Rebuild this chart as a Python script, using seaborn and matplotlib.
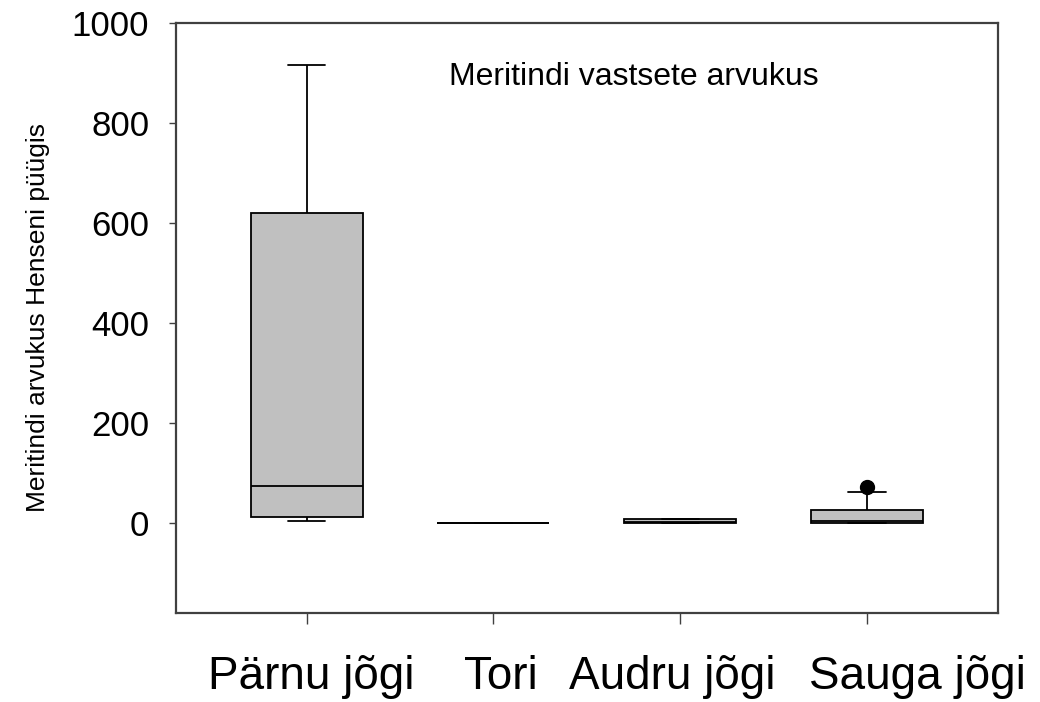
import numpy as np
import pandas as pd
import matplotlib
matplotlib.use("Agg")
import matplotlib.pyplot as plt
import matplotlib.transforms as mtransforms
import seaborn as sns

rivers = ["Pärnu jõgi", "Tori", "Audru jõgi", "Sauga jõgi"]
parnu = [4, 8, 12, 40, 74, 300, 619, 800, 916]
tori = [0, 0, 0, 0, 0, 0, 0, 0, 0]
audru = [0, 0, 0, 1, 2, 4, 8, 8, 8]
sauga = [0, 0, 0, 1, 3, 10, 25, 62, 72]
y_ticks = [0, 200, 400, 600, 800, 1000]

df = pd.DataFrame({
    "jogi": np.repeat(rivers, [len(parnu), len(tori), len(audru), len(sauga)]),
    "arvukus": parnu + tori + audru + sauga,
})

sns.set_style("white")
plt.rcParams["font.family"] = ["Liberation Sans", "DejaVu Sans"]

fig = plt.figure(figsize=(10.4, 7.02), dpi=100)
ax = fig.add_axes([0.169, 0.127, 0.7906, 0.8405])

sns.boxplot(data=df, x="jogi", y="arvukus", order=rivers, ax=ax,
            color="#c0c0c0", linecolor="black", linewidth=1.3,
            width=0.6, saturation=1, capwidths=0.2,
            flierprops=dict(marker="o", markerfacecolor="black",
                            markeredgecolor="black", markersize=10))

ax.set_xlim(-0.7, 3.7)
ax.set_ylim(-180, 1000)
ax.set_yticks(y_ticks)
ax.set_xlabel("")
ax.set_ylabel("Meritindi arvukus Henseni püügis", fontsize=19, labelpad=16,
              color="black")
ax.tick_params(axis="y", labelsize=25, length=5, width=1, pad=14,
               direction="out", left=True, color="#404040",
               labelcolor="black")
ax.tick_params(axis="x", labelsize=33, length=8, width=1, pad=22,
               direction="out", bottom=True, color="#404040",
               labelcolor="black")
for s in ax.spines.values():
    s.set_color("#404040")
    s.set_linewidth(1.6)

# labels in the original are not exactly centred under the ticks
shifts = [0.05, 0.07, -0.08, 0.50]
for lab, dx in zip(ax.get_xticklabels(), shifts):
    lab.set_transform(lab.get_transform() +
                      mtransforms.ScaledTranslation(dx, 0, fig.dpi_scale_trans))

ax.text(1.75, 892, "Meritindi vastsete arvukus", fontsize=23,
        ha="center", va="center", color="black")

fig.savefig("out.png", dpi=100)
